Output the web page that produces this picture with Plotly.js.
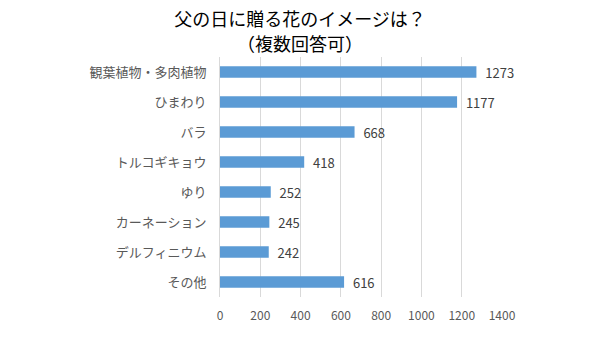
<!DOCTYPE html>
<html><head><meta charset="utf-8">
<script src="https://cdn.plot.ly/plotly-3.0.1.min.js"></script>
<style>body{margin:0;background:#fff}#c{width:600px;height:338px}</style>
</head><body><div id="c"></div>
<script>
const categories = ["観葉植物・多肉植物","ひまわり","バラ","トルコギキョウ","ゆり","カーネーション","デルフィニウム","その他"];
const values = [1273,1177,668,418,252,245,242,616];
const xTicks = [0,200,400,600,800,1000,1200,1400];
const titleLine1 = '父の日に贈る花のイメージは？';
const titleLine2 = '（複数回答可）';
const F = '"Noto Sans CJK JP", "Noto Sans", sans-serif';
Plotly.newPlot('c', [{
  type:'bar', orientation:'h', y:categories, x:values,
  marker:{color:'#5b9bd5'}, width:0.38,
  text:values, texttemplate:'  %{x}', textposition:'outside', cliponaxis:false, constraintext:'none',
  textfont:{family:F,size:13,color:'#404040'}, hoverinfo:'none'
}], {
  width:600, height:338, paper_bgcolor:'#fff', plot_bgcolor:'#fff',
  margin:{l:220,r:98,t:57,b:41},
  title:{text:titleLine1, x:0.5, xanchor:'center', y:1-20/338, yref:'container', yanchor:'middle',
    font:{family:F,size:18,color:'#000'}},
  annotations:[{text:titleLine2, xref:'paper', yref:'paper', x:(300-220)/282, y:1+(57-43)/240,
    xanchor:'center', yanchor:'middle', showarrow:false, font:{family:F,size:18,color:'#000'}}],
  showlegend:false,
  xaxis:{range:[0,1400], tickvals:xTicks, showgrid:true, gridcolor:'#d9d9d9', gridwidth:1,
    zeroline:false, showline:false, ticks:'outside', ticklen:8, tickcolor:'rgba(0,0,0,0)',
    tickfont:{family:F,size:12,color:'#595959'}, fixedrange:true},
  yaxis:{autorange:'reversed', showline:true, linecolor:'#d9d9d9', linewidth:1, showgrid:false,
    ticks:'outside', ticklen:10, tickcolor:'rgba(0,0,0,0)',
    tickfont:{family:F,size:13,color:'#595959'}, fixedrange:true}
}, {displayModeBar:false, staticPlot:true});
</script></body></html>
